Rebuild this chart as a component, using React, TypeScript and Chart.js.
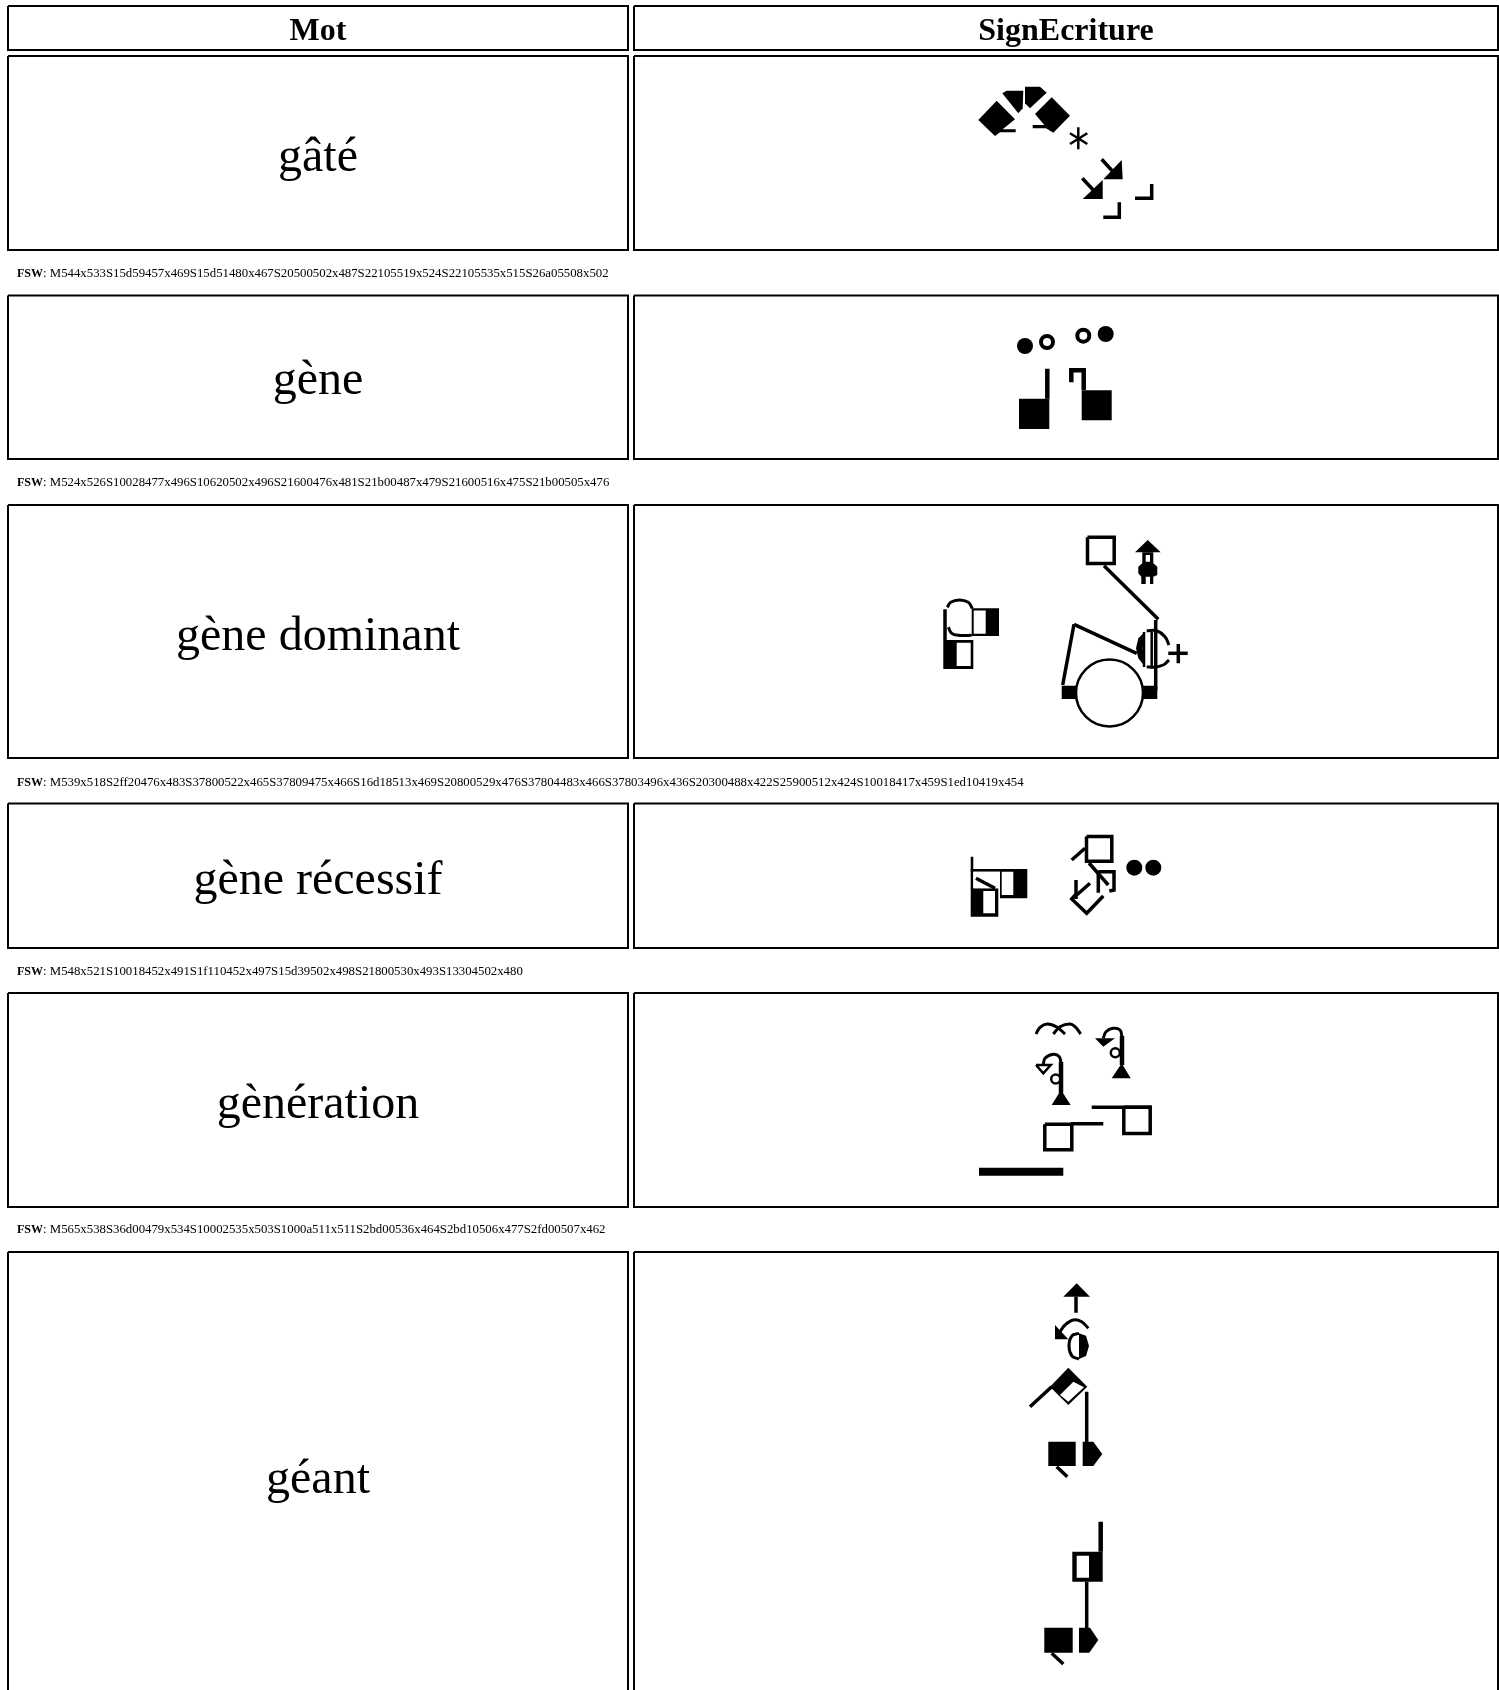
import React, { useEffect, useRef } from "react";
import { Chart, registerables } from "chart.js";

Chart.register(...registerables);

type P = number[];

// Table text
const columnHeaders = ["Mot", "SignEcriture"];
const words = ["gâté", "gène", "gène dominant", "gène récessif", "gènération", "géant"];
const fswCodes = [
  "M544x533S15d59457x469S15d51480x467S20500502x487S22105519x524S22105535x515S26a05508x502",
  "M524x526S10028477x496S10620502x496S21600476x481S21b00487x479S21600516x475S21b00505x476",
  "M539x518S2ff20476x483S37800522x465S37809475x466S16d18513x469S20800529x476S37804483x466S37803496x436S20300488x422S25900512x424S10018417x459S1ed10419x454",
  "M548x521S10018452x491S1f110452x497S15d39502x498S21800530x493S13304502x480",
  "M565x538S36d00479x534S10002535x503S1000a511x511S2bd00536x464S2bd10506x477S2fd00507x462",
];

// On a 1499 x 1690 grid
const headerBaseline = 39.5;
const wordBaselines = [171, 394, 650, 894, 1118, 1493];
const fswBaselines = [277, 486, 786, 975, 1233];
const rowTops = [6, 56, 295.5, 505, 803.5, 993, 1252];
const rowBottoms = [50, 250, 459, 758, 948, 1207, 1730];
const columnLefts = [8, 634];
const columnRights = [628, 1498];

const solidShapes: P[][] = [
  // gâté
  [[978.3,120],[996.7,100.7],[1015,119.3],[1002.7,129.3],[1015.7,129.3],[1015.7,132.3],[1000,132.3],[995,136]],
  [[1002.3,93.3],[1006.7,90.7],[1023.3,90.7],[1022.7,108.3],[1018.3,113.3]],
  [[1025,86.7],[1040,86.7],[1046.7,92.7],[1030,108.3],[1025,103.3]],
  [[1051.7,97.3],[1070,115.7],[1053.3,132.7],[1046,128.3],[1032.7,128.3],[1032.7,125],[1044.3,125],[1035,114]],
  [[1121.7,160],[1122.7,179.3],[1103.3,179.3]],
  [[1102.7,180],[1102.7,199],[1082.7,199]],
  // gène
  [[1019,398.7],[1049.3,398.7],[1049.3,429],[1019,429]],
  [[1081.7,390.3],[1111.7,390.3],[1111.7,420.3],[1081.7,420.3]],
  // gène dominant
  [[971.7,608.3],[999,608.3],[999,636],[971.7,636]],
  [[943.3,640],[973.3,640],[973.3,669],[943.3,669]],
  [[1135,552.3],[1147.7,540],[1160.7,552.3]],
  [[1142.3,552.3],[1153.3,552.3],[1153.3,563.3],[1157.3,566.7],[1157.3,575],[1153.3,576.7],[1153.3,584],[1150,584],[1150,576.7],[1145.7,576.7],[1145.7,584],[1141.3,584],[1141.3,576.7],[1138.3,573.3],[1138.3,566.7],[1142.3,563.3]],
  [[1061.7,685.7],[1076.7,685.7],[1076.7,699],[1061.7,699]],
  [[1142.7,685.7],[1157.3,685.7],[1157.3,699],[1142.7,699]],
  [[1145,631.7],[1138.3,638.3],[1136,648.3],[1138.3,658.3],[1145,666.7],[1142.7,648.3]],
  // gène récessif
  [[1000,869],[1027.3,869],[1027.3,898.3],[1000,898.3]],
  [[970.7,888.3],[998.3,888.3],[998.3,916.7],[970.7,916.7]],
  [[970.7,869],[1000,869],[1000,871.7],[970.7,871.7]],
  [[970.7,856.7],[973.3,856.7],[973.3,889],[970.7,889]],
  // gènération
  [[1095,1038.3],[1115,1038.3],[1103.3,1046.7]],
  [[1111.7,1078.3],[1130.7,1078.3],[1121.7,1063.3]],
  [[1051.7,1105],[1070.7,1105],[1061,1090]],
  [[979,1167.7],[1063.3,1167.7],[1063.3,1175.7],[979,1175.7]],
  // géant, upper sign
  [[1063.3,1296.7],[1076.7,1283.3],[1090,1296.7]],
  [[1055,1325],[1055,1339.3],[1068.3,1339.3]],
  [[1079,1333.3],[1086,1335.7],[1089,1346],[1086,1356],[1079,1359]],
  [[1068.3,1367.7],[1087.3,1386.7],[1068.3,1405],[1050,1386.7]],
  [[1048.3,1441.7],[1075.7,1441.7],[1075.7,1466],[1048.3,1466]],
  [[1082.7,1441.7],[1093.3,1441.7],[1102.3,1454],[1093.3,1466],[1082.7,1466]],
  // géant, lower sign
  [[1072.3,1551.7],[1102.7,1551.7],[1102.7,1581.7],[1072.3,1581.7]],
  [[1044.3,1627.7],[1072.7,1627.7],[1072.7,1652.7],[1044.3,1652.7]],
  [[1079,1627.7],[1090,1627.7],[1098.3,1640],[1089.3,1652.7],[1079,1652.7]],
];

const whiteShapes: P[][] = [
  [[973.7,610.5],[985.7,610.5],[985.7,633.7],[973.7,633.7]],
  [[956.7,642.7],[970.7,642.7],[970.7,666],[956.7,666]],
  [[1145.7,555],[1150,555],[1150,561.7],[1145.7,561.7]],
  [[1001.7,871.7],[1013.3,871.7],[1013.3,895],[1001.7,895]],
  [[973.3,871.7],[1000,871.7],[1000,888.3],[973.3,888.3]],
  [[983.3,891],[995,891],[995,913.3],[983.3,913.3]],
  [[1060,1395],[1073.3,1381.7],[1084,1387.3],[1068.3,1401.7]],
  [[1076.7,1555.7],[1089,1555.7],[1089,1577.7],[1076.7,1577.7]],
];

const thinStrokes: P[][] = [
  [[1078.3,127.3],[1078.3,149.3]],
  [[1070,133.3],[1087.3,144]],
  [[1087.3,133.3],[1070,144]],
  [[1144,632],[1144,667]],
  [[1151.7,632],[1151.7,667]],
  [[1036,1065],[1050.7,1065],[1043.3,1073.3],[1036,1065]],
];

const curveStrokes: P[][] = [
  [[947.3,607.3],[950.7,602.3],[959.3,600],[968.3,602.3],[972.3,608.3]],
  [[948.3,627.3],[951.7,633.3],[958.3,635.3],[971.7,635.3]],
  [[1146.7,630.7],[1156.7,630.7],[1165,636.7],[1169,645]],
  [[1169,660],[1163.3,665],[1153.3,667.3],[1146.7,666.7]],
  [[1036,1034],[1040,1027.3],[1047.3,1024],[1056.7,1027],[1065,1034]],
  [[1053.3,1034],[1060,1026.7],[1070,1024],[1075,1026.7],[1080.7,1034]],
  [[1103.3,1038.3],[1106,1031.7],[1113,1028.3],[1120,1030],[1122,1037]],
  [[1043.3,1065],[1045,1058.3],[1053.3,1054.3],[1059.3,1056.7],[1061,1063]],
  [[1079,1333.3],[1072,1335.7],[1069,1346],[1072,1356],[1079,1359]],
  [[1088.3,1328.3],[1081.7,1321.7],[1073.3,1320],[1065,1325],[1060,1331.7]],
];

const lineStrokes: P[][] = [
  [[1101.7,159.3],[1116,175]],
  [[1082.3,178.3],[1097,194]],
  [[1135,198.3],[1151.7,198.3],[1151.7,184]],
  [[1103.3,217.3],[1119.3,217.3],[1119.3,202.3]],
  [[945,609.3],[945,640]],
  [[1087.5,537.2],[1114.2,537.2],[1114.2,563.5],[1087.5,563.5],[1087.5,537.2]],
  [[1104,565.7],[1158.3,619.3]],
  [[1155.7,620],[1155.7,690]],
  [[1074,624.3],[1062.7,685]],
  [[1074,624.3],[1136.7,653.3]],
  [[1168.3,653.3],[1187.7,653.3]],
  [[1178.3,644],[1178.3,663.3]],
  [[976,878.3],[995,888.3]],
  [[1086.5,836.5],[1111.8,836.5],[1111.8,861.2],[1086.5,861.2],[1086.5,836.5]],
  [[1071.7,860],[1085,848.3]],
  [[1089,863],[1108.3,885]],
  [[1098.3,871.7],[1098.3,892.7]],
  [[1098.3,871.7],[1114,871.7],[1114,890],[1109.3,891]],
  [[1103.3,896],[1086.7,913.3],[1071.7,899],[1076.7,893.3]],
  [[1076,899],[1076,880]],
  [[1076.7,895],[1090,883.3]],
  [[1044.8,1124.2],[1071.8,1124.2],[1071.8,1149.8],[1044.8,1149.8],[1044.8,1124.2]],
  [[1071,1123.7],[1103.3,1123.7]],
  [[1123.8,1107.2],[1150.2,1107.2],[1150.2,1133.5],[1123.8,1133.5],[1123.8,1107.2]],
  [[1091.7,1107.3],[1151.7,1107.3]],
  [[1076,1296.7],[1076,1312.7]],
  [[1030,1406.7],[1051.7,1386.7]],
  [[1086.7,1391.7],[1086.7,1443.3]],
  [[1056.7,1466.7],[1067.3,1476.7]],
  [[1086.7,1581.7],[1086.7,1628.3]],
  [[1051.7,1653.3],[1063.3,1664]],
];

const heavyStrokes: P[][] = [
  [[1047.3,368.7],[1047.3,398.7]],
  [[1071.3,382.3],[1071.3,370.3],[1083.7,370.3],[1083.7,390]],
  [[1100.7,1521.7],[1100.7,1551.7]],
  [[1122,1036],[1122,1065]],
  [[1061,1062],[1061,1093]],
];

const dotCenters: P[] = [[1025,346],[1105.7,334],[1134.3,867.7],[1153.3,867.7]];
const ringCenters: P[] = [[1047,342],[1083.3,335.7]];
const smallRingCenters: P[] = [[1115.3,1052.7],[1055.7,1079]];
const bigCircleCenters: P[] = [[1109.5,693]];

const toXY = (pts: P[]) => pts.map(([x, y]) => ({ x, y }));

function buildDatasets() {
  const ds: any[] = [];
  const stroke = (pts: P[], w: number, tension = 0) =>
    ds.push({ data: toXY(pts), showLine: true, pointRadius: 0, borderColor: "#000", borderWidth: w, tension, borderJoinStyle: "miter", fill: false });
  const poly = (pts: P[], color: string) =>
    ds.push({ data: toXY([...pts, pts[0]]), showLine: true, pointRadius: 0, borderColor: color, borderWidth: 0, backgroundColor: color, fill: "shape" });
  const points = (pts: P[], r: number, bg: string, bw: number) =>
    ds.push({ data: toXY(pts), showLine: false, pointRadius: r, pointBackgroundColor: bg, pointBorderColor: "#000", pointBorderWidth: bw });

  rowTops.forEach((top, r) => {
    const bottom = rowBottoms[r];
    columnLefts.forEach((left, c) => {
      const right = columnRights[c];
      stroke([[left, top], [right, top], [right, bottom], [left, bottom], [left, top]], 2);
    });
  });
  solidShapes.forEach((s) => poly(s, "#000"));
  whiteShapes.forEach((s) => poly(s, "#fff"));
  thinStrokes.forEach((s) => stroke(s, 2.5));
  curveStrokes.forEach((s) => stroke(s, 3, 0.4));
  lineStrokes.forEach((s) => stroke(s, 3.5));
  heavyStrokes.forEach((s) => stroke(s, 4.5));
  points(dotCenters, 8, "#000", 0);
  points(ringCenters, 6, "#fff", 4);
  points(smallRingCenters, 4.5, "#fff", 2.5);
  points(bigCircleCenters, 33.5, "rgba(0,0,0,0)", 2.5);
  // first dataset ends up lowest in the paint order
  ds.forEach((d, i) => (d.order = ds.length - i));
  return ds;
}

const tableText = {
  id: "tableText",
  afterDatasetsDraw(chart: any) {
    const { ctx, scales } = chart;
    const X = (v: number) => scales.x.getPixelForValue(v);
    const Y = (v: number) => scales.y.getPixelForValue(v);
    const serif = '"Liberation Serif"';
    ctx.save();
    ctx.fillStyle = "#000";
    ctx.textBaseline = "alphabetic";
    ctx.textAlign = "center";
    ctx.font = `bold 32px ${serif}`;
    columnHeaders.forEach((h, c) => ctx.fillText(h, X((columnLefts[c] + columnRights[c]) / 2), Y(headerBaseline)));
    ctx.font = `48px ${serif}`;
    words.forEach((w, r) => ctx.fillText(w, X((columnLefts[0] + columnRights[0]) / 2), Y(wordBaselines[r])));
    ctx.textAlign = "left";
    fswCodes.forEach((code, r) => {
      ctx.font = `bold 12px ${serif}`;
      ctx.fillText("FSW", X(17), Y(fswBaselines[r]));
      const w = ctx.measureText("FSW").width;
      ctx.font = `12.8px ${serif}`;
      ctx.fillText(": " + code, X(17) + w, Y(fswBaselines[r]));
    });
    ctx.restore();
  },
};

export default function App() {
  const ref = useRef<HTMLCanvasElement>(null);
  useEffect(() => {
    document.body.style.margin = "0";
    document.body.style.background = "#fff";
    const chart = new Chart(ref.current!, {
      type: "scatter",
      data: { datasets: buildDatasets() },
      plugins: [tableText],
      options: {
        animation: false,
        responsive: false,
        maintainAspectRatio: false,
        layout: { padding: 0, autoPadding: false },
        plugins: { legend: { display: false }, tooltip: { enabled: false }, title: { display: false } },
        scales: {
          x: { type: "linear", display: false, min: 0, max: 1499 },
          y: { type: "linear", display: false, min: 0, max: 1690, reverse: true },
        },
      },
    } as any);
    return () => chart.destroy();
  }, []);
  return (
    <div style={{ position: "absolute", left: 0, top: 0, width: 1499, height: 1690, overflow: "hidden" }}>
      <canvas ref={ref} width={1499} height={1690} style={{ display: "block" }} />
    </div>
  );
}
